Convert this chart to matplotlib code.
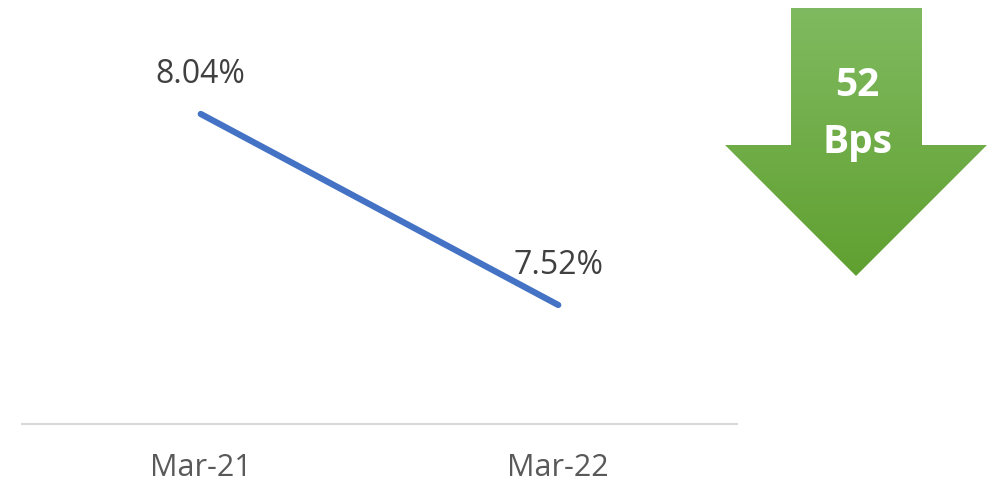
import matplotlib
matplotlib.use("Agg")
import matplotlib.pyplot as plt
import numpy as np
from matplotlib.patches import Polygon

categories = ["Mar-21", "Mar-22"]
values = [8.04, 7.52]
labels = ["8.04%", "7.52%"]
change_text = ["52", "Bps"]

W, H = 992, 489
fig = plt.figure(figsize=(W / 100, H / 100), dpi=100)
fig.patch.set_facecolor("white")

# main line chart axes (pixel placement)
left, right, top, bottom = 22, 737, 0, 425
ax = fig.add_axes([left / W, 1 - bottom / H, (right - left) / W, (bottom - top) / H])
x = np.arange(len(categories))
ax.plot(x, values, color="#4472C4", linewidth=4.5, solid_capstyle="round", zorder=3)
ax.set_xlim(-0.5, 1.5)
ax.set_ylim(7.196, 8.353)
for xi, v, lab in zip(x, values, labels):
    ax.annotate(lab, (xi, v), xytext=(0, 29), textcoords="offset points",
                ha="center", va="center", fontsize=23, color="#404040",
                family="Open Sans")
ax.set_xticks(x)
ax.set_xticklabels(categories, fontsize=22, color="#595959", family="Open Sans")
ax.tick_params(axis="x", length=0, pad=20)
ax.set_yticks([])
for s in ["top", "left", "right"]:
    ax.spines[s].set_visible(False)
ax.spines["bottom"].set_color("#D9D9D9")
ax.spines["bottom"].set_linewidth(1.5)
ax.patch.set_alpha(0)

# arrow overlay axes in pixel coordinates
ov = fig.add_axes([0, 0, 1, 1])
ov.set_xlim(0, W)
ov.set_ylim(H, 0)
ov.axis("off")
ov.patch.set_alpha(0)
pts = [(791, 9), (922, 9), (922, 146), (987, 146), (856, 277),
       (725, 146), (791, 146)]
poly = Polygon(pts, closed=True, facecolor="none", edgecolor="none")
ov.add_patch(poly)
top_c = np.array([0x80, 0xBA, 0x60]) / 255
bot_c = np.array([0x60, 0xA0, 0x30]) / 255
t = np.linspace(0, 1, 256)[:, None]
grad = top_c[None, :] * (1 - t) + bot_c[None, :] * t
img = np.repeat(grad[:, None, :], 2, axis=1)
im = ov.imshow(img, extent=[725, 987, 277, 9], aspect="auto", zorder=2)
im.set_clip_path(poly)
ov.text(857, 86, change_text[0], ha="center", va="center", fontsize=28,
        fontweight="bold", color="white", family="Open Sans", zorder=3)
ov.text(857, 142, change_text[1], ha="center", va="center", fontsize=28,
        fontweight="bold", color="white", family="Open Sans", zorder=3)
ov.set_xlim(0, W)
ov.set_ylim(H, 0)

fig.savefig("out.png", dpi=100)
